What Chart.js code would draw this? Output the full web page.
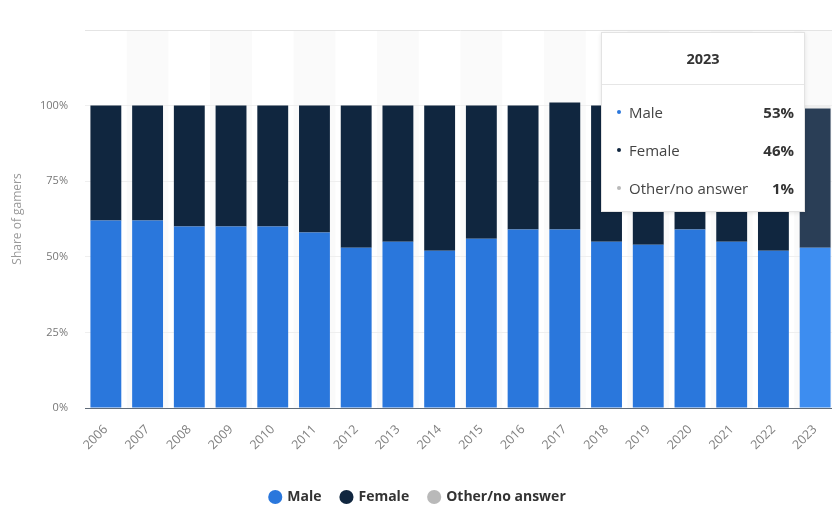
<!DOCTYPE html>
<html>
<head>
<meta charset="utf-8">
<script src="https://cdn.jsdelivr.net/npm/chart.js@4.4.0/dist/chart.umd.min.js"></script>
<style>
  html, body { margin: 0; padding: 0; background: #fff; overflow: hidden; }
  #wrap { position: relative; width: 840px; height: 506px; }
  #tip {
    position: absolute; display: none; width: 204px; box-sizing: border-box;
    background: #fff; border: 1px solid #e3e3e3; box-shadow: 0 1px 4px rgba(0,0,0,0.10);
    font-family: 'Open Sans', sans-serif; color: #333; pointer-events: none;
  }
  #tip .head { height: 51px; line-height: 51px; text-align: center; font-weight: bold; font-size: 14.5px; border-bottom: 1px solid #e6e6e6; }
  #tip .body { padding: 8px 10px 4px 15px; }
  #tip .row { display: flex; align-items: center; height: 38px; font-size: 15px; }
  #tip .dot { width: 4px; height: 4px; border-radius: 50%; margin-right: 8px; }
  #tip .lbl { flex: 1; color: #444; }
  #tip .val { font-weight: bold; }
</style>
</head>
<body>
<div id="wrap">
  <canvas id="chart" width="840" height="506"></canvas>
  <div id="tip"></div>
</div>
<script>
// Gamer gender split by survey year (share of respondents, %)
const years = ['2006','2007','2008','2009','2010','2011','2012','2013','2014','2015','2016','2017','2018','2019','2020','2021','2022','2023'];
const male   = [62, 62, 60, 60, 60, 58, 53, 55, 52, 56, 59, 59, 55, 54, 59, 55, 52, 53];
const female = [38, 38, 40, 40, 40, 42, 47, 45, 48, 44, 41, 42, 45, 46, 41, 45, 48, 46];
const other  = [ 0,  0,  0,  0,  0,  0,  0,  0,  0,  0,  0,  0,  0,  0,  0,  0,  0,  1];
const seriesNames = ['Male', 'Female', 'Other/no answer'];
const axisMax = 125;
const axisStep = 25;
const highlightYear = '2023';

Chart.defaults.font.family = "'Open Sans', sans-serif";

// Faint background band behind every second category column
const columnBands = {
  id: 'columnBands',
  beforeDraw(chart) {
    const {ctx, chartArea, scales: {x}} = chart;
    const w = (chartArea.right - chartArea.left) / years.length;
    ctx.save();
    ctx.fillStyle = '#fafafa';
    years.forEach((_, i) => {
      if (i % 2 === 1) {
        const cx = x.getPixelForValue(i);
        ctx.fillRect(cx - w / 2, chartArea.top, w, chartArea.bottom - chartArea.top);
      }
    });
    ctx.restore();
  }
};

function renderTip(context) {
  const {chart, tooltip} = context;
  const el = document.getElementById('tip');
  if (tooltip.opacity === 0) { el.style.display = 'none'; return; }
  const rows = tooltip.dataPoints.map(dp =>
    '<div class="row"><span class="dot" style="background:' + dp.dataset.backgroundColor + '"></span>' +
    '<span class="lbl">' + dp.dataset.label + '</span><span class="val">' + dp.raw + '%</span></div>'
  ).join('');
  el.innerHTML = '<div class="head">' + tooltip.title[0] + '</div><div class="body">' + rows + '</div>';
  el.style.display = 'block';
  el.style.left = Math.round(tooltip.caretX - 214) + 'px';
  el.style.top = Math.round(chart.chartArea.top + 2) + 'px';
}

const chart = new Chart(document.getElementById('chart'), {
  type: 'bar',
  data: {
    labels: years,
    datasets: [
      { label: seriesNames[0], data: male,   backgroundColor: '#2a77dc', hoverBackgroundColor: '#3d8df0' },
      { label: seriesNames[1], data: female, backgroundColor: '#10263f', hoverBackgroundColor: '#2a3e56' },
      { label: seriesNames[2], data: other,  backgroundColor: '#b9b9b9', hoverBackgroundColor: '#eeeeee' }
    ]
  },
  options: {
    responsive: false,
    animation: false,
    events: [],
    barPercentage: 0.74,
    categoryPercentage: 1,
    interaction: { mode: 'index', intersect: false },
    layout: { padding: { top: 30, right: 4, bottom: -8, left: 0 } },
    scales: {
      x: {
        stacked: true,
        grid: { display: false },
        border: { display: true, color: '#5f6b78', width: 1 },
        ticks: { color: '#808080', font: { size: 12.5 }, minRotation: 45, maxRotation: 45, autoSkip: false, padding: 6 },
        afterFit(s) { s.height = 62; }
      },
      y: {
        stacked: true,
        min: 0,
        max: axisMax,
        border: { display: false },
        grid: {
          drawTicks: false,
          color: c => c.tick.value === axisMax ? '#e4e4e4' : (c.tick.value === 0 ? 'rgba(0,0,0,0)' : '#efefef')
        },
        ticks: {
          stepSize: axisStep,
          color: '#777',
          font: { size: 11 },
          padding: 17,
          callback: v => v <= 100 ? v + '%' : ''
        },
        title: { display: true, text: 'Share of gamers', color: '#9a9a9a', font: { size: 12 }, padding: { top: 10, bottom: 0 } },
        afterFit(s) { s.width = 85; }
      }
    },
    plugins: {
      legend: {
        position: 'bottom',
        labels: {
          usePointStyle: true,
          pointStyle: 'circle',
          boxWidth: 10,
          boxHeight: 10,
          padding: 20,
          color: '#333',
          font: { size: 14, weight: 'bold' }
        }
      },
      tooltip: {
        enabled: false,
        mode: 'index',
        external: renderTip
      }
    }
  },
  plugins: [columnBands]
});

// Show the latest survey year as the focused column
const idx = years.indexOf(highlightYear);
const active = chart.data.datasets.map((_, d) => ({ datasetIndex: d, index: idx }));
chart.setActiveElements(active);
chart.tooltip.setActiveElements(active, { x: 0, y: 0 });
chart.update();
</script>
</body>
</html>
